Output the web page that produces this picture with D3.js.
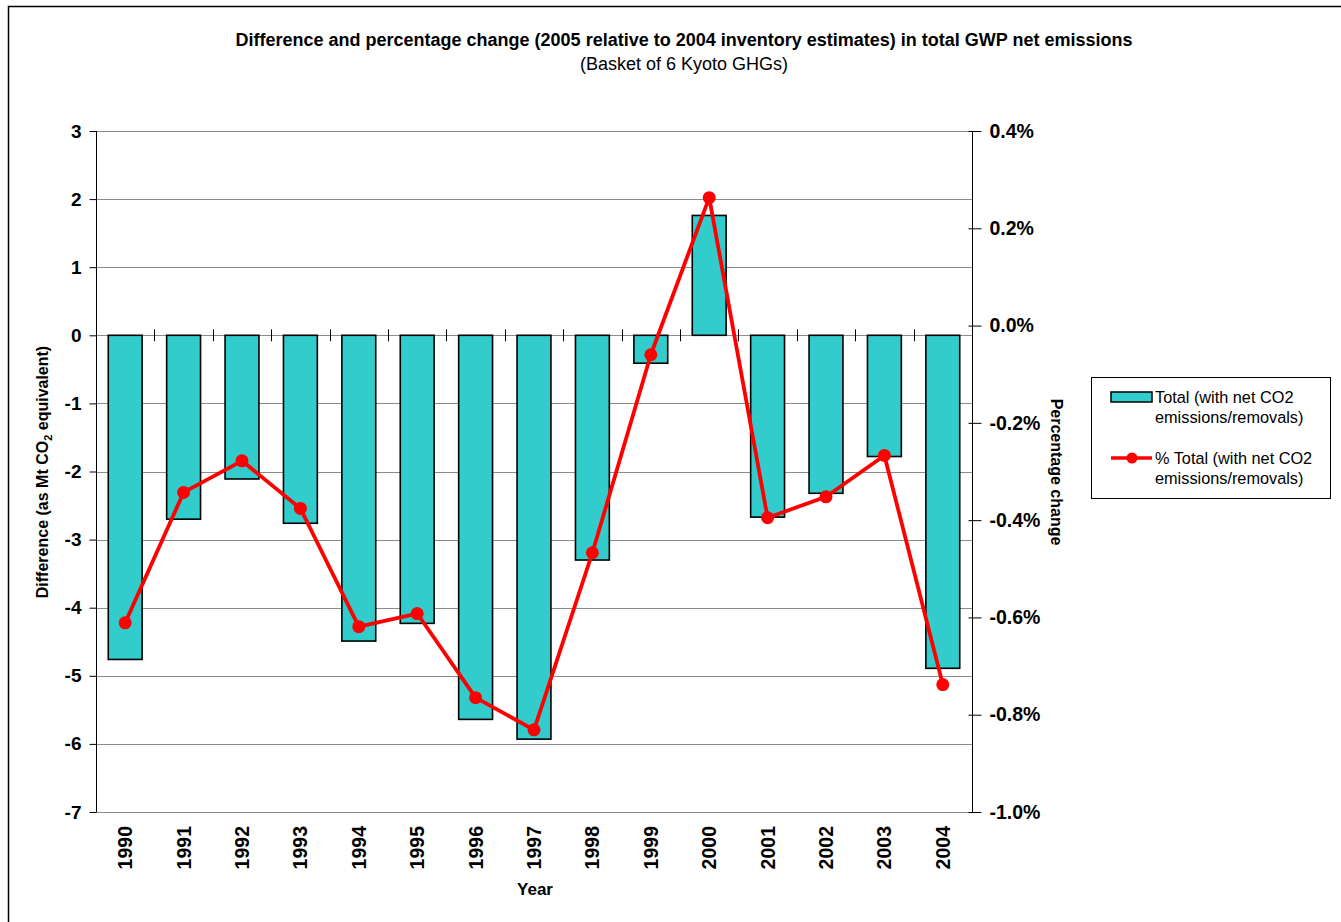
<!DOCTYPE html>
<html lang="en">
<head>
<meta charset="UTF-8">
<title>GWP net emissions difference</title>
<script src="https://d3js.org/d3.v7.min.js"></script>
<style>
  body { margin: 0; background: #fff; }
  text { font-family: "Liberation Sans", Arial, sans-serif; }
</style>
</head>
<body>
<script>
// data
var years = ["1990","1991","1992","1993","1994","1995","1996","1997","1998","1999","2000","2001","2002","2003","2004"];
var diffMt = [-4.76, -2.70, -2.11, -2.76, -4.49, -4.23, -5.64, -5.93, -3.30, -0.41, 1.76, -2.67, -2.32, -1.78, -4.89];
var pctChange = [-0.611, -0.343, -0.278, -0.376, -0.619, -0.592, -0.765, -0.831, -0.467, -0.060, 0.263, -0.395, -0.352, -0.267, -0.738];
var leftTicks = [3, 2, 1, 0, -1, -2, -3, -4, -5, -6, -7];
var rightTicks = [0.4, 0.2, 0.0, -0.2, -0.4, -0.6, -0.8, -1.0];

var W = 1341, H = 922;
var x0 = 96, x1 = 972, yTop = 131, yBot = 812;

var svg = d3.select("body").append("svg")
    .attr("width", W)
    .attr("height", H);

// outer chart border (runs off right / bottom edge)
svg.append("rect")
    .attr("x", 8.5).attr("y", 6.5)
    .attr("width", W + 20).attr("height", H + 20)
    .attr("fill", "none").attr("stroke", "#000").attr("stroke-width", 1.5);

var x = d3.scaleBand().domain(years).range([x0, x1]).paddingInner(0.42).paddingOuter(0.21);
var y = d3.scaleLinear().domain([-7, 3]).range([yBot, yTop]);
var y2 = d3.scaleLinear().domain([-1.0, 0.4]).range([yBot, yTop]);

// gridlines
svg.append("g").selectAll("line")
    .data(leftTicks)
    .enter().append("line")
    .attr("x1", x0).attr("x2", x1)
    .attr("y1", function(d){ return Math.round(y(d)) + 0.5; })
    .attr("y2", function(d){ return Math.round(y(d)) + 0.5; })
    .attr("stroke", "#8c8c8c").attr("stroke-width", 1);

// bars
svg.append("g").selectAll("rect")
    .data(years)
    .enter().append("rect")
    .attr("x", function(d){ return x(d); })
    .attr("width", x.bandwidth())
    .attr("y", function(d, i){ return y(Math.max(0, diffMt[i])); })
    .attr("height", function(d, i){ return Math.abs(y(diffMt[i]) - y(0)); })
    .attr("fill", "#33cccc")
    .attr("stroke", "#000").attr("stroke-width", 1.6);

// category ticks on the zero line
var step = (x1 - x0) / years.length;
svg.append("g").selectAll("line")
    .data(d3.range(1, years.length))
    .enter().append("line")
    .attr("x1", function(d){ return Math.round(x0 + d * step) + 0.5; })
    .attr("x2", function(d){ return Math.round(x0 + d * step) + 0.5; })
    .attr("y1", y(0) - 6).attr("y2", y(0) + 6)
    .attr("stroke", "#000").attr("stroke-width", 1);

// left axis
var leftAxis = svg.append("g")
    .attr("transform", "translate(" + (x0 + 0.5) + ",0)")
    .call(d3.axisLeft(y).tickValues(leftTicks).tickSize(7)
        .tickFormat(function(d){ return String(d); }));
leftAxis.select(".domain").attr("d", "M0," + yTop + "V" + yBot);
leftAxis.selectAll("text")
    .attr("font-size", 19).attr("font-weight", "bold")
    .attr("font-family", "Liberation Sans, Arial, sans-serif")
    .attr("x", -15);

// right axis
var rightAxis = svg.append("g")
    .attr("transform", "translate(" + (x1 + 0.5) + ",0)")
    .call(d3.axisRight(y2).tickValues(rightTicks).tickSize(9)
        .tickFormat(function(d){ return d.toFixed(1) + "%"; }));
rightAxis.select(".domain").attr("d", "M0," + yTop + "V" + yBot);
rightAxis.selectAll(".tick line").attr("x1", -4);
rightAxis.selectAll("text")
    .attr("font-size", 19.5).attr("font-weight", "bold")
    .attr("font-family", "Liberation Sans, Arial, sans-serif")
    .attr("x", 17);

// percentage line
var line = d3.line()
    .x(function(d, i){ return x(years[i]) + x.bandwidth() / 2; })
    .y(function(d){ return y2(d); });

svg.append("path")
    .datum(pctChange)
    .attr("d", line)
    .attr("fill", "none")
    .attr("stroke", "#ff0000").attr("stroke-width", 3.8)
    .attr("stroke-linejoin", "round");

svg.append("g").selectAll("circle")
    .data(pctChange)
    .enter().append("circle")
    .attr("cx", function(d, i){ return x(years[i]) + x.bandwidth() / 2; })
    .attr("cy", function(d){ return y2(d); })
    .attr("r", 6.5)
    .attr("fill", "#ff0000");

// year labels
svg.append("g").selectAll("text")
    .data(years)
    .enter().append("text")
    .attr("transform", function(d){
        return "translate(" + (x(d) + x.bandwidth() / 2 + 7) + "," + 826 + ") rotate(-90)";
    })
    .attr("text-anchor", "end")
    .attr("font-size", 19.5).attr("font-weight", "bold")
    .text(function(d){ return d; });

svg.append("text")
    .attr("x", 535).attr("y", 895)
    .attr("text-anchor", "middle")
    .attr("font-size", 17).attr("font-weight", "bold")
    .text("Year");

// titles
svg.append("text")
    .attr("x", 684).attr("y", 46)
    .attr("text-anchor", "middle")
    .attr("font-size", 18).attr("font-weight", "bold")
    .text("Difference and percentage change (2005 relative to 2004 inventory estimates) in total GWP net emissions");

svg.append("text")
    .attr("x", 684).attr("y", 70)
    .attr("text-anchor", "middle")
    .attr("font-size", 18)
    .text("(Basket of 6 Kyoto GHGs)");

// left axis title
var lt = svg.append("text")
    .attr("transform", "translate(48,472) rotate(-90)")
    .attr("text-anchor", "middle")
    .attr("font-size", 16).attr("font-weight", "bold");
lt.append("tspan").text("Difference (as Mt CO");
lt.append("tspan").attr("font-size", 11).attr("dy", 4).text("2");
lt.append("tspan").attr("dy", -4).text(" equivalent)");

// right axis title
svg.append("text")
    .attr("transform", "translate(1051,472) rotate(90)")
    .attr("text-anchor", "middle")
    .attr("font-size", 16).attr("font-weight", "bold")
    .text("Percentage change");

// legend
var lg = svg.append("g").attr("transform", "translate(1091,377)");
lg.append("rect")
    .attr("x", 0.5).attr("y", 0.5).attr("width", 239).attr("height", 121)
    .attr("fill", "#fff").attr("stroke", "#000").attr("stroke-width", 1);
lg.append("rect")
    .attr("x", 20).attr("y", 15).attr("width", 41).attr("height", 10)
    .attr("fill", "#33cccc").attr("stroke", "#000").attr("stroke-width", 1.5);
lg.append("text").attr("x", 64).attr("y", 26).attr("font-size", 16.3).text("Total (with net CO2");
lg.append("text").attr("x", 64).attr("y", 46).attr("font-size", 16.3).text("emissions/removals)");
lg.append("line")
    .attr("x1", 20).attr("x2", 61).attr("y1", 81).attr("y2", 81)
    .attr("stroke", "#ff0000").attr("stroke-width", 3.5);
lg.append("circle").attr("cx", 41).attr("cy", 81).attr("r", 5.5).attr("fill", "#ff0000");
lg.append("text").attr("x", 64).attr("y", 87).attr("font-size", 16.3).text("% Total (with net CO2");
lg.append("text").attr("x", 64).attr("y", 107).attr("font-size", 16.3).text("emissions/removals)");
</script>
</body>
</html>
